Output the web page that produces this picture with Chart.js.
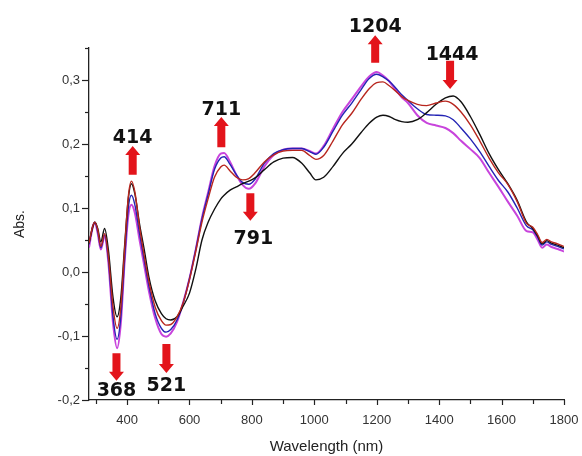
<!DOCTYPE html>
<html>
<head>
<meta charset="utf-8">
<script src="https://cdn.jsdelivr.net/npm/chart.js@4.4.1/dist/chart.umd.min.js"></script>
<style>
  html, body { margin: 0; padding: 0; background: #fff; }
  #wrap { width: 582px; height: 456px; }
</style>
</head>
<body>
<div id="wrap"><canvas id="spectra" width="582" height="456"></canvas></div>
<script>
// wavelength grid (nm) shared by all four spectra
const wavelengths = [278, 290, 297, 306, 316, 328, 340, 355, 368, 380, 392, 404, 414, 425, 440, 455, 470, 490, 510, 525, 540, 560, 580, 600, 620, 640, 660, 680, 700, 711, 730, 750, 770, 790, 810, 840, 870, 900, 930, 960, 985, 1005, 1030, 1060, 1090, 1120, 1150, 1175, 1200, 1220, 1240, 1260, 1280, 1300, 1330, 1360, 1390, 1420, 1445, 1470, 1500, 1530, 1560, 1590, 1620, 1650, 1680, 1700, 1715, 1730, 1745, 1760, 1780, 1800];

const absBlack = [0.045, 0.070, 0.078, 0.068, 0.047, 0.068, 0.035, -0.040, -0.070, -0.040, 0.040, 0.115, 0.138, 0.122, 0.075, 0.035, -0.008, -0.045, -0.065, -0.073, -0.075, -0.070, -0.053, -0.033, 0.004, 0.050, 0.078, 0.098, 0.114, 0.120, 0.128, 0.133, 0.138, 0.142, 0.147, 0.160, 0.172, 0.178, 0.179, 0.170, 0.155, 0.144, 0.148, 0.165, 0.185, 0.200, 0.218, 0.232, 0.242, 0.245, 0.243, 0.238, 0.235, 0.234, 0.238, 0.249, 0.262, 0.272, 0.275, 0.266, 0.243, 0.215, 0.185, 0.160, 0.138, 0.112, 0.078, 0.068, 0.057, 0.044, 0.049, 0.045, 0.042, 0.038];

const absRed = [0.045, 0.072, 0.078, 0.066, 0.040, 0.060, 0.025, -0.055, -0.088, -0.055, 0.035, 0.118, 0.142, 0.125, 0.070, 0.025, -0.015, -0.055, -0.076, -0.083, -0.082, -0.070, -0.048, -0.012, 0.032, 0.078, 0.115, 0.148, 0.164, 0.167, 0.158, 0.148, 0.144, 0.146, 0.155, 0.172, 0.183, 0.189, 0.190, 0.190, 0.182, 0.176, 0.182, 0.205, 0.230, 0.248, 0.270, 0.286, 0.296, 0.297, 0.291, 0.283, 0.274, 0.268, 0.262, 0.260, 0.264, 0.267, 0.262, 0.250, 0.230, 0.205, 0.178, 0.155, 0.137, 0.110, 0.076, 0.070, 0.059, 0.046, 0.051, 0.047, 0.044, 0.040];

const absBlue = [0.043, 0.072, 0.078, 0.063, 0.038, 0.058, 0.020, -0.070, -0.105, -0.070, 0.020, 0.100, 0.120, 0.105, 0.060, 0.018, -0.022, -0.065, -0.088, -0.094, -0.090, -0.075, -0.048, -0.010, 0.035, 0.083, 0.122, 0.160, 0.178, 0.180, 0.168, 0.152, 0.140, 0.137, 0.145, 0.170, 0.185, 0.191, 0.193, 0.193, 0.188, 0.184, 0.195, 0.220, 0.245, 0.264, 0.285, 0.302, 0.309, 0.305, 0.298, 0.288, 0.277, 0.268, 0.255, 0.246, 0.245, 0.244, 0.238, 0.225, 0.208, 0.188, 0.165, 0.143, 0.125, 0.100, 0.072, 0.066, 0.055, 0.042, 0.047, 0.043, 0.040, 0.036];

const absMagenta = [0.038, 0.070, 0.077, 0.060, 0.035, 0.056, 0.015, -0.080, -0.119, -0.080, 0.015, 0.088, 0.105, 0.092, 0.050, 0.010, -0.030, -0.072, -0.097, -0.101, -0.096, -0.078, -0.047, -0.010, 0.035, 0.085, 0.125, 0.165, 0.185, 0.186, 0.172, 0.152, 0.136, 0.130, 0.138, 0.165, 0.183, 0.191, 0.193, 0.193, 0.189, 0.185, 0.197, 0.224, 0.250, 0.270, 0.290, 0.305, 0.3125, 0.307, 0.298, 0.285, 0.273, 0.264, 0.245, 0.233, 0.229, 0.225, 0.217, 0.205, 0.192, 0.178, 0.155, 0.133, 0.110, 0.088, 0.064, 0.062, 0.051, 0.038, 0.043, 0.039, 0.036, 0.032];

// axis ticks
const xTickValues = [300, 400, 500, 600, 700, 800, 900, 1000, 1100, 1200, 1300, 1400, 1500, 1600, 1700, 1800];
const xTickLabels = ['', '400', '', '600', '', '800', '', '1000', '', '1200', '', '1400', '', '1600', '', '1800'];
const yTickValues = [-0.2, -0.15, -0.1, -0.05, 0, 0.05, 0.1, 0.15, 0.2, 0.25, 0.3, 0.35];
const yTickLabels = ['-0,2', '', '-0,1', '', '0,0', '', '0,1', '', '0,2', '', '0,3', ''];

// peak markers
const markLabels = ['414', '711', '1204', '1444', '791', '368', '521'];
const markNm = [418, 702, 1195, 1435, 795, 366, 526];

function series(values) {
  return wavelengths.map((w, i) => ({ x: w, y: values[i] }));
}

const arrowPlugin = {
  id: 'arrows',
  afterDraw(chart, args, opts) {
    const { ctx, scales: { x, y } } = chart;
    ctx.save();

    // tick marks (outside the axes, longer for labelled ones)
    ctx.strokeStyle = '#222';
    ctx.lineWidth = 1.2;
    const left = chart.chartArea.left, bottom = chart.chartArea.bottom;
    xTickValues.forEach((v, i) => {
      const px = Math.round(x.getPixelForValue(v)) + 0.5;
      const len = xTickLabels[i] ? 5 : 4;
      ctx.beginPath(); ctx.moveTo(px, bottom); ctx.lineTo(px, bottom + len); ctx.stroke();
    });
    yTickValues.forEach((v, i) => {
      const py = Math.round(y.getPixelForValue(v)) + 0.5;
      const len = yTickLabels[i] ? 7 : 4;
      ctx.beginPath(); ctx.moveTo(left, py); ctx.lineTo(left - len, py); ctx.stroke();
    });

    // red block arrows with bold labels
    ctx.font = 'bold 19px "DejaVu Sans", Verdana, sans-serif';
    ctx.textAlign = 'center';
    opts.marks.forEach((m, i) => {
      const px = x.getPixelForValue(markNm[i]);
      const yTop = y.getPixelForValue(m.top);
      const yBot = y.getPixelForValue(m.bottom);
      const shaft = 4, head = 7.5, headLen = 9;
      ctx.fillStyle = '#e3141b';
      ctx.beginPath();
      if (m.dir === 'up') {
        ctx.moveTo(px, yTop);
        ctx.lineTo(px + head, yTop + headLen);
        ctx.lineTo(px + shaft, yTop + headLen);
        ctx.lineTo(px + shaft, yBot);
        ctx.lineTo(px - shaft, yBot);
        ctx.lineTo(px - shaft, yTop + headLen);
        ctx.lineTo(px - head, yTop + headLen);
      } else {
        ctx.moveTo(px, yBot);
        ctx.lineTo(px + head, yBot - headLen);
        ctx.lineTo(px + shaft, yBot - headLen);
        ctx.lineTo(px + shaft, yTop);
        ctx.lineTo(px - shaft, yTop);
        ctx.lineTo(px - shaft, yBot - headLen);
        ctx.lineTo(px - head, yBot - headLen);
      }
      ctx.closePath();
      ctx.fill();

      ctx.fillStyle = '#111';
      ctx.textBaseline = 'alphabetic';
      if (m.text === 'above') {
        ctx.fillText(markLabels[i], px + m.dx, yTop - m.gap);
      } else {
        ctx.fillText(markLabels[i], px + m.dx, yBot + m.gap + 14);
      }
    });
    ctx.restore();
  }
};

new Chart(document.getElementById('spectra'), {
  type: 'line',
  data: {
    datasets: [
      { label: 'red', data: series(absRed), borderColor: '#b8261e', borderWidth: 1.4 },
      { label: 'black', data: series(absBlack), borderColor: '#111111', borderWidth: 1.4 },
      { label: 'blue', data: series(absBlue), borderColor: '#2323b4', borderWidth: 1.4 },
      { label: 'magenta', data: series(absMagenta), borderColor: '#c844dc', borderWidth: 2 }
    ]
  },
  options: {
    responsive: false,
    animation: false,
    layout: { padding: { top: 48, right: 18, left: 12, bottom: 0 } },
    elements: {
      point: { radius: 0 },
      line: { cubicInterpolationMode: 'monotone', fill: false }
    },
    plugins: {
      legend: { display: false },
      tooltip: { enabled: false },
      arrows: {
        marks: [
          { top: 0.197, bottom: 0.152, dir: 'up', text: 'above', gap: 3, dx: 0 },
          { top: 0.242, bottom: 0.195, dir: 'up', text: 'above', gap: 2, dx: 0 },
          { top: 0.370, bottom: 0.327, dir: 'up', text: 'above', gap: 3, dx: 0 },
          { top: 0.330, bottom: 0.286, dir: 'down', text: 'above', gap: 1, dx: 2 },
          { top: 0.123, bottom: 0.080, dir: 'down', text: 'below', gap: 9, dx: 3 },
          { top: -0.127, bottom: -0.170, dir: 'down', text: 'below', gap: 1, dx: 0 },
          { top: -0.1125, bottom: -0.158, dir: 'down', text: 'below', gap: 4, dx: 0 }
        ]
      }
    },
    scales: {
      x: {
        type: 'linear',
        min: 278,
        max: 1800,
        afterBuildTicks: s => { s.ticks = xTickValues.map(v => ({ value: v })); },
        afterFit: s => { s.height = 56; s.paddingLeft = 0; s.paddingRight = 0; },
        ticks: {
          autoSkip: false,
          maxRotation: 0,
          padding: 13,
          color: '#333',
          font: { family: '"Liberation Sans", Arial, sans-serif', size: 13 },
          callback: (v, i) => xTickLabels[i]
        },
        grid: { display: false, drawTicks: false },
        border: { display: true, color: '#222', width: 1.3 },
        title: {
          display: true,
          text: 'Wavelength (nm)',
          color: '#222',
          font: { family: '"Liberation Sans", Arial, sans-serif', size: 15 },
          padding: { top: 0, bottom: 0 }
        }
      },
      y: {
        min: -0.2,
        max: 0.35,
        afterBuildTicks: s => { s.ticks = yTickValues.map(v => ({ value: v })); },
        afterFit: s => { s.width = 77; s.paddingTop = 0; s.paddingBottom = 0; },
        ticks: {
          autoSkip: false,
          padding: 9,
          color: '#333',
          font: { family: '"Liberation Sans", Arial, sans-serif', size: 13 },
          callback: (v, i) => yTickLabels[i]
        },
        grid: { display: false, drawTicks: false },
        border: { display: true, color: '#222', width: 1.3 },
        title: {
          display: true,
          text: 'Abs.',
          color: '#222',
          font: { family: '"Liberation Sans", Arial, sans-serif', size: 14 },
          padding: { top: 0, bottom: 0 }
        }
      }
    }
  },
  plugins: [arrowPlugin]
});
</script>
</body>
</html>
